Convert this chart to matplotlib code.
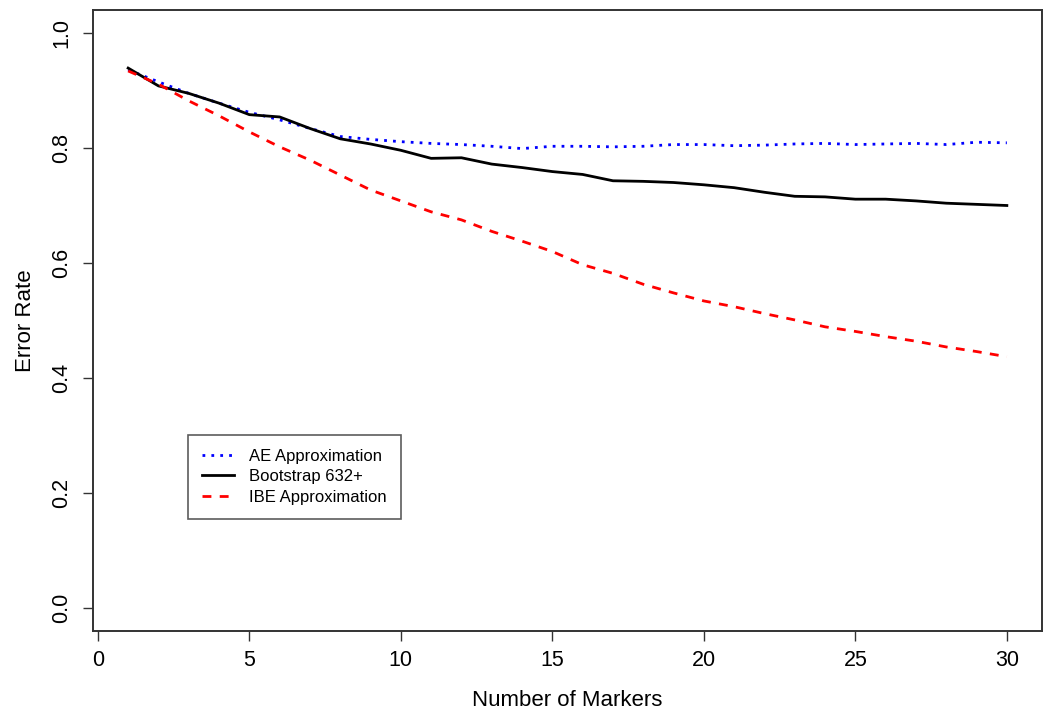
import numpy as np
import matplotlib
matplotlib.use('Agg')
import matplotlib.pyplot as plt

plt.rcParams['font.family'] = ['Liberation Sans', 'DejaVu Sans']

markers = np.arange(1, 31)

ae_approx = [0.936, 0.915, 0.895, 0.878, 0.862, 0.849, 0.834, 0.820, 0.815, 0.811,
             0.808, 0.806, 0.803, 0.799, 0.803, 0.803, 0.802, 0.803, 0.806, 0.806,
             0.804, 0.805, 0.807, 0.808, 0.806, 0.807, 0.808, 0.806, 0.810, 0.809]

bootstrap = [0.939, 0.908, 0.895, 0.878, 0.858, 0.854, 0.834, 0.816, 0.807, 0.796,
             0.782, 0.783, 0.772, 0.766, 0.759, 0.754, 0.743, 0.742, 0.740, 0.736,
             0.731, 0.723, 0.716, 0.715, 0.711, 0.711, 0.708, 0.704, 0.702, 0.700]

ibe_approx = [0.934, 0.911, 0.882, 0.856, 0.828, 0.802, 0.779, 0.753, 0.727, 0.708,
              0.689, 0.675, 0.655, 0.638, 0.620, 0.597, 0.582, 0.563, 0.548, 0.534,
              0.524, 0.512, 0.501, 0.489, 0.481, 0.472, 0.464, 0.454, 0.446, 0.437]

x_ticks = [0, 5, 10, 15, 20, 25, 30]
y_ticks = [0.0, 0.2, 0.4, 0.6, 0.8, 1.0]

fig = plt.figure(figsize=(10.5, 7.18), dpi=100)
ax = fig.add_axes([93 / 1050, 87 / 718, 949 / 1050, 621 / 718])

ax.plot(markers, ae_approx, color='blue', lw=2, dashes=(1, 2.2),
        label='AE Approximation')
ax.plot(markers, bootstrap, color='black', lw=2, label='Bootstrap 632+')
ax.plot(markers, ibe_approx, color='red', lw=2, dashes=(3.2, 3),
        label='IBE Approximation')

ax.set_xlim(-0.16, 31.16)
ax.set_ylim(-0.04, 1.04)
ax.set_xticks(x_ticks)
ax.set_xticklabels([str(t) for t in x_ticks])
ax.set_yticks(y_ticks)
ax.set_yticklabels(['%.1f' % t for t in y_ticks])

ax.tick_params(axis='both', length=7, width=1, color='#333333',
               labelsize=15.5, pad=7)
ax.tick_params(axis='y', labelrotation=90, pad=8)
for lab in ax.get_yticklabels():
    lab.set_va('center')

for sp in ax.spines.values():
    sp.set_linewidth(1.4)
    sp.set_color('#333333')

ax.set_xlabel('Number of Markers', fontsize=16, labelpad=13)
ax.set_ylabel('Error Rate', fontsize=16, labelpad=11)

leg = ax.legend(loc='upper left', bbox_to_anchor=(0.1, 0.316), fontsize=12,
                frameon=True, fancybox=False, handlelength=1.9,
                handletextpad=0.9, labelspacing=0.32, borderpad=0.85,
                borderaxespad=0)
leg.get_frame().set_edgecolor('#333333')
leg.get_frame().set_linewidth(1.2)

fig.savefig('out.png', dpi=100)
